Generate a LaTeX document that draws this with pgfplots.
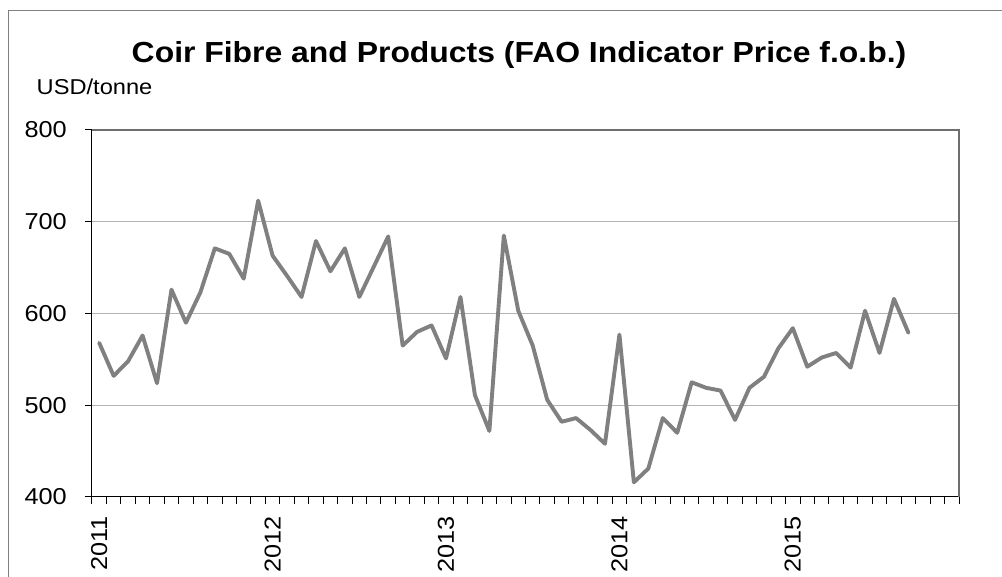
\documentclass[border=0pt]{standalone}
\usepackage{fontspec}
\setmainfont{Liberation Sans}[FakeStretch=1.1]
\usepackage{pgfplots}
\pgfplotsset{compat=1.18}
\usetikzlibrary{calc}
\definecolor{linegray}{HTML}{808080}
\definecolor{gridgray}{HTML}{B4B4B4}
\definecolor{bordergray}{HTML}{6E6E6E}
\begin{document}
\begin{tikzpicture}[x=1pt,y=1pt]
\begin{axis}[
  scale only axis, width=867pt, height=367pt,
  xmin=-0.5, xmax=59.5, ymin=400, ymax=800,
  axis x line*=bottom, axis y line*=left,
  axis line style={black, line width=1pt},
  tick align=outside,
  xtick={-0.5,0.5,...,59.5}, xticklabels={},
  major tick length=7pt,
  every tick/.style={black, line width=1pt},
  extra x ticks={0,12,24,36,48},
  extra x tick labels={2011,2012,2013,2014,2015},
  extra x tick style={major tick length=0pt, grid=none,
     xticklabel style={yshift=-19pt, rotate=90, anchor=east, inner sep=0pt,
       font=\fontsize{23}{23}\selectfont}},
  ytick={400,500,600,700,800},
  yticklabels={400,500,600,700,800},
  yticklabel style={anchor=east, inner sep=0pt, xshift=-18pt, font=\fontsize{23}{23}\selectfont},
  ymajorgrids, grid style={gridgray, line width=1pt},
  clip=false,
]
\addplot[linegray, line width=3.9pt, line join=round, line cap=round] coordinates {
(0,568) (1,532) (2,548) (3,576) (4,524) (5,626) (6,590) (7,623) (8,671) (9,665)
(10,638) (11,723) (12,663) (13,641) (14,618) (15,679) (16,646) (17,671) (18,618) (19,651)
(20,684) (21,565) (22,580) (23,587) (24,551) (25,618) (26,511) (27,472) (28,685) (29,603)
(30,565) (31,506) (32,482) (33,486) (34,473) (35,458) (36,577) (37,416) (38,431) (39,486)
(40,470) (41,525) (42,519) (43,516) (44,484) (45,519) (46,531) (47,562) (48,584) (49,542)
(50,552) (51,557) (52,541) (53,603) (54,557) (55,616) (56,579)
};
\draw[bordergray, line width=1.8pt] (rel axis cs:0,1) -- (rel axis cs:1,1) -- (rel axis cs:1,0);
\coordinate (SW) at (rel axis cs:0,0);
\end{axis}
\pgfresetboundingbox
\path[use as bounding box] ($(SW)+(-92,-80)$) rectangle ($(SW)+(910,497)$);
\draw[linegray, line width=1pt] ($(SW)+(-83,-80)$) -- ($(SW)+(-83,486)$) -- ($(SW)+(910,486)$);
\node[anchor=base, inner sep=0pt, font=\fontsize{29}{29}\selectfont\bfseries] at ($(SW)+(427,434)$) {Coir Fibre and Products (FAO Indicator Price f.o.b.)};
\node[anchor=base west, inner sep=0pt, font=\fontsize{21.5}{21.5}\selectfont] at ($(SW)+(-55.5,402)$) {USD/tonne};
\end{tikzpicture}
\end{document}
